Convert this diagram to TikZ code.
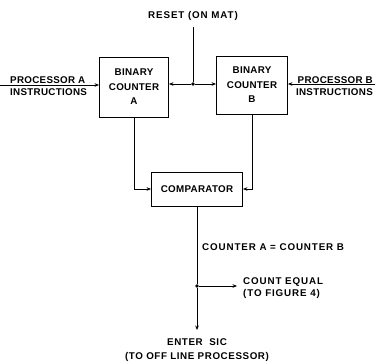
\documentclass[tikz,border=0pt]{standalone}
\usepackage{fontspec}
\setmainfont{Liberation Sans}[LetterSpace=3]
\usetikzlibrary{arrows.meta}

\tikzset{
  blockbox/.style={draw, line width=0.9pt, align=center, inner sep=0pt,
    font=\fontsize{9.8}{14.5}\selectfont\bfseries},
  lbl/.style={inner sep=0pt, font=\fontsize{9.8}{12.5}\selectfont\bfseries},
  widelbl/.style={inner sep=0pt, font=\fontsize{9.8}{12.5}\selectfont\bfseries\addfontfeatures{LetterSpace=9}},
  flow/.style={line width=0.8pt, -{Stealth[length=4.5pt,width=3.6pt]}},
  wire/.style={line width=0.8pt},
  junction/.style={circle, fill, inner sep=0pt, minimum size=3.6pt}
}

\begin{document}
\begin{tikzpicture}[x=1pt, y=-1pt]
\useasboundingbox (0,0) rectangle (375,364);

% counters and comparator
\node[blockbox, minimum width=69pt, minimum height=60pt] (cntA) at (134,87) {BINARY\\COUNTER\\A};
\node[blockbox, minimum width=71pt, minimum height=58pt] (cntB) at (252,85) {BINARY\\COUNTER\\B};
\node[blockbox, minimum width=91pt, minimum height=34pt] (comp) at (197,189) {COMPARATOR};

% reset line
\node[widelbl] (reset) at (193,16) {RESET (ON MAT)};
\coordinate (rsttop) at (193,27);
\node[junction] (rstdot) at (193,84) {};
\draw[wire] (rsttop) -- (rstdot);
\draw[flow] (rstdot) -- (rstdot -| cntA.east);
\draw[flow] (rstdot) -- (rstdot -| cntB.west);

% processor inputs
\coordinate (inA) at (0,85);
\draw[flow] (inA) -- (inA -| cntA.west);
\node[lbl, anchor=west] (procA) at (10,80) {PROCESSOR A};
\node[lbl, anchor=west] (instA) at (10,92) {INSTRUCTIONS};
\coordinate (inB) at (375,84);
\draw[flow] (inB) -- (inB -| cntB.east);
\node[lbl, anchor=east] (procB) at (373,80) {PROCESSOR B};
\node[lbl, anchor=east] (instB) at (373,92) {INSTRUCTIONS};

% counters to comparator
\draw[flow] (cntA.south) |- (comp.west);
\draw[flow] (cntB.south) |- (comp.east);

% comparator output
\node[widelbl, anchor=west] (eqlbl) at (202,247) {COUNTER A = COUNTER B};
\node[junction] (eqdot) at (197,286) {};
\coordinate (eqend) at (237,286);
\coordinate (sic) at (197,330);
\draw[wire] (comp.south) -- (eqdot);
\draw[flow] (eqdot) -- (eqend);
\draw[flow] (eqdot) -- (sic);
\node[widelbl, anchor=west, align=left] (eqtxt) at (243,288) {COUNT EQUAL\\(TO FIGURE 4)};
\node[widelbl, align=center, font=\fontsize{9.8}{14}\selectfont\bfseries\addfontfeatures{LetterSpace=6}] (sictxt) at (197,350) {ENTER\ \ SIC\\(TO OFF LINE PROCESSOR)};

\end{tikzpicture}
\end{document}
